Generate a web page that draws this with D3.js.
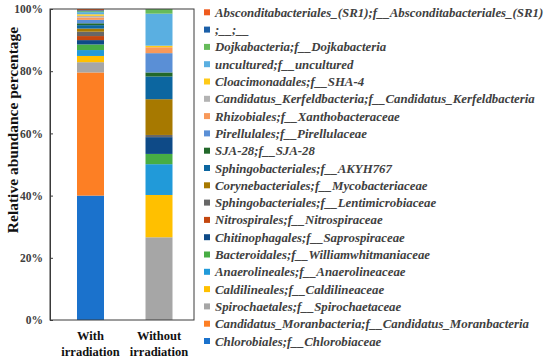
<!DOCTYPE html>
<html><head><meta charset="utf-8">
<script src="https://cdn.jsdelivr.net/npm/d3@7"></script>
<style>html,body{margin:0;padding:0;background:#fff;}svg{display:block;}</style>
</head><body><svg id="c" width="550" height="358"></svg>
<script>
const categories = ["With irradiation", "Without irradiation"];
const taxa = [
  "Chlorobiales;f__Chlorobiaceae",
  "Candidatus_Moranbacteria;f__Candidatus_Moranbacteria",
  "Spirochaetales;f__Spirochaetaceae",
  "Caldilineales;f__Caldilineaceae",
  "Anaerolineales;f__Anaerolineaceae",
  "Bacteroidales;f__Williamwhitmaniaceae",
  "Chitinophagales;f__Saprospiraceae",
  "Nitrospirales;f__Nitrospiraceae",
  "Sphingobacteriales;f__Lentimicrobiaceae",
  "Corynebacteriales;f__Mycobacteriaceae",
  "Sphingobacteriales;f__AKYH767",
  "SJA-28;f__SJA-28",
  "Pirellulales;f__Pirellulaceae",
  "Rhizobiales;f__Xanthobacteraceae",
  "Candidatus_Kerfeldbacteria;f__Candidatus_Kerfeldbacteria",
  "Cloacimonadales;f__SHA-4",
  "uncultured;f__uncultured",
  "Dojkabacteria;f__Dojkabacteria",
  ";__;__",
  "Absconditabacteriales_(SR1);f__Absconditabacteriales_(SR1)"
];
const withIrradiation =    [40.0, 39.6, 3.3, 2.0, 1.9, 1.8, 1.4, 1.3, 1.4, 1.0, 1.1, 0.6, 1.1, 0.8, 0.5, 0.5, 0.7, 0.3, 0.3, 0.4];
const withoutIrradiation = [0.0, 0.0, 26.6, 13.6, 9.9, 3.3, 5.4, 0.0, 0.7, 11.5, 7.3, 1.3, 6.2, 1.9, 0.0, 0.5, 10.3, 1.5, 0.0, 0.0];
const colors = ["#1b72cc","#fd7f24","#a6a6a6","#ffc000","#219ad9","#47ad44","#0e4a87","#c4470f","#676767","#a77900",
                "#0c66a0","#22682a","#5a8fd6","#f8995a","#b3b3b3","#ffca18","#5aafe1","#66bb5a","#1b5fa8","#ef5a1d"];
const yTicks = [0, 20, 40, 60, 80, 100];

const svg = d3.select("#c");
const L = 50, R = 194, T = 9, B = 320;

const rows = categories.map((c, i) => {
  const o = {cat: c};
  taxa.forEach((t, j) => o[t] = (i === 0 ? withIrradiation : withoutIrradiation)[j]);
  return o;
});
const stack = d3.stack().keys(taxa)(rows);

const x = d3.scaleBand().domain(categories).range([77, 172.5]).paddingInner(0.606).paddingOuter(0);
const y = d3.scaleLinear().domain([0, 100]).range([B, T]);
const color = d3.scaleOrdinal().domain(taxa).range(colors);

// bars
svg.append("g").selectAll("g").data(stack).join("g")
  .attr("fill", d => color(d.key))
  .selectAll("rect").data(d => d).join("rect")
  .attr("x", d => x(d.data.cat))
  .attr("width", x.bandwidth())
  .attr("y", d => y(d[1]))
  .attr("height", d => Math.max(0, y(d[0]) - y(d[1])));

// frame
svg.append("rect").attr("x", L).attr("y", T).attr("width", R - L).attr("height", B - T)
  .attr("fill", "none").attr("stroke", "#3a3a3a").attr("stroke-width", 1);

// y axis
const yAxis = d3.axisLeft(y).tickValues(yTicks).tickFormat(d => d + "%").tickSizeInner(-3).tickSizeOuter(0).tickPadding(7);
const ga = svg.append("g").attr("transform", `translate(${L},0)`).call(yAxis);
ga.select(".domain").attr("stroke", "#3a3a3a");
ga.selectAll(".tick line").attr("stroke", "#3a3a3a");
ga.selectAll("text").attr("font-family", "Liberation Serif").attr("font-weight", "bold")
  .attr("font-size", 11.5).attr("fill", "#404040");

// y title
svg.append("text").attr("transform", `translate(18,130) rotate(-90)`)
  .attr("text-anchor", "middle").attr("font-family", "Liberation Serif").attr("font-weight", "bold")
  .attr("font-size", 15.5).attr("fill", "#111").text("Relative abundance percentage");

// x labels
const xl = svg.append("g").selectAll("text").data(categories).join("text")
  .attr("x", d => x(d) + x.bandwidth() / 2).attr("y", 340)
  .attr("text-anchor", "middle").attr("font-family", "Liberation Serif").attr("font-weight", "bold")
  .attr("font-size", 12.5).attr("fill", "#111");
xl.each(function(d) {
  const parts = d.split(" ");
  d3.select(this).selectAll("tspan").data(parts).join("tspan")
    .attr("x", x(d) + x.bandwidth() / 2).attr("dy", (p, i) => i === 0 ? 0 : 16).text(p => p);
});

// legend
const legendOrder = taxa.slice().reverse();
const lg = svg.append("g").selectAll("g").data(legendOrder).join("g")
  .attr("transform", (d, i) => `translate(204,${12.3 + i * 17.3})`);
lg.append("rect").attr("x", 0).attr("y", -3).attr("width", 6).attr("height", 6).attr("fill", d => color(d));
lg.append("text").attr("x", 11).attr("y", 0).attr("dy", "0.35em")
  .attr("font-family", "Liberation Serif").attr("font-weight", "bold").attr("font-style", "italic")
  .attr("font-size", 12.85).attr("fill", "#404040").text(d => d);
</script></body></html>
